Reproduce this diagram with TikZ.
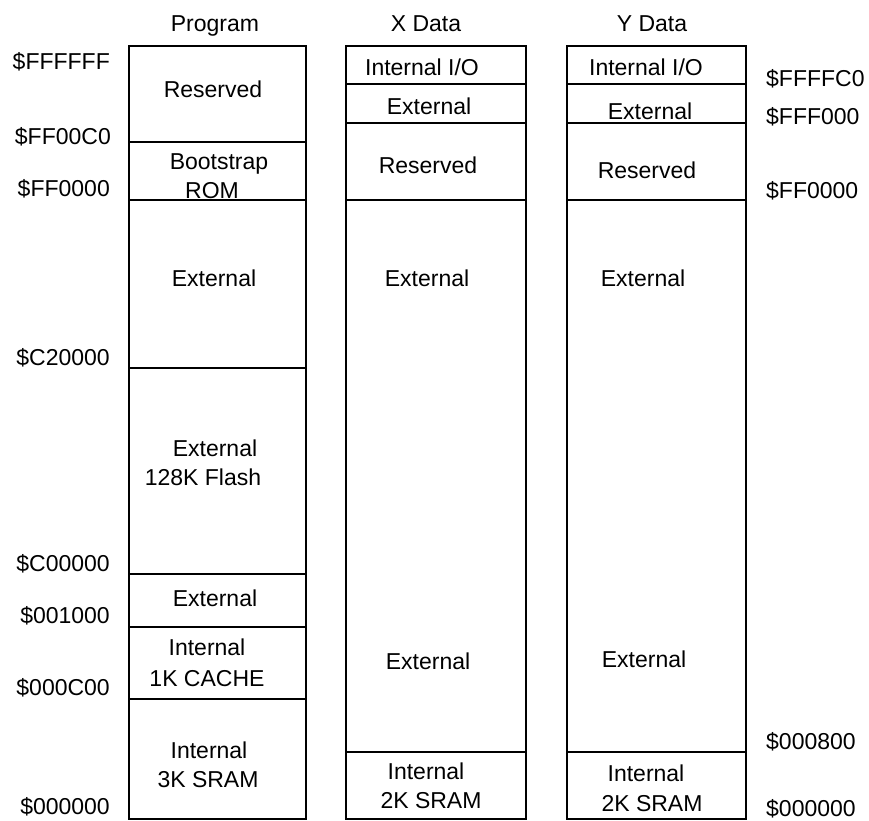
\documentclass[tikz,border=0pt]{standalone}
\usepackage{fontspec}
\setmainfont{Liberation Sans}
\begin{document}
\begin{tikzpicture}[x=1bp,y=-1bp,
  box/.style={line width=1.9bp},
  lbl/.style={inner sep=0pt,font=\fontsize{23bp}{27bp}\selectfont,text height=16.5bp,text depth=0bp,anchor=center},
  addrL/.style={lbl,anchor=east},
  addrR/.style={lbl,anchor=west}]
\useasboundingbox (0,0) rectangle (869,821);
% Program column
\draw[box] (129,46) rectangle (306,819);
\foreach \yy in {142,200,368,574,627,699} \draw[box] (129,\yy) -- (306,\yy);
% X data column
\draw[box] (346,46) rectangle (526,819);
\foreach \yy in {84,123,200,752} \draw[box] (346,\yy) -- (526,\yy);
% Y data column
\draw[box] (567,46) rectangle (746,819);
\foreach \yy in {84,123,200,752} \draw[box] (567,\yy) -- (746,\yy);
% titles
\node[lbl] (tp) at (215,23) {Program};
\node[lbl] (tx) at (426,23) {X Data};
\node[lbl] (ty) at (652,23) {Y Data};
% program texts
\node[lbl] (p1) at (213,89) {Reserved};
\node[lbl] (p2a) at (219,161) {Bootstrap};
\node[lbl] (p2b) at (212,190) {ROM};
\node[lbl] (p3) at (214,278) {External};
\node[lbl] (p4a) at (215,448) {External};
\node[lbl] (p4b) at (203,477) {128K Flash};
\node[lbl] (p5) at (215,598) {External};
\node[lbl] (p6a) at (207,647) {Internal};
\node[lbl] (p6b) at (207,678) {1K CACHE};
\node[lbl] (p7a) at (209,750) {Internal};
\node[lbl] (p7b) at (208,779) {3K SRAM};
% X texts
\node[lbl] (x1) at (422,67) {Internal I/O};
\node[lbl] (x2) at (429,106) {External};
\node[lbl] (x3) at (428,165) {Reserved};
\node[lbl] (x4) at (427,278) {External};
\node[lbl] (x5) at (428,661) {External};
\node[lbl] (x6a) at (426,771) {Internal};
\node[lbl] (x6b) at (431,800) {2K SRAM};
% Y texts
\node[lbl] (y1) at (646,67) {Internal I/O};
\node[lbl] (y2) at (650,111) {External};
\node[lbl] (y3) at (647,170) {Reserved};
\node[lbl] (y4) at (643,278) {External};
\node[lbl] (y5) at (644,659) {External};
\node[lbl] (y6a) at (646,773) {Internal};
\node[lbl] (y6b) at (652,803) {2K SRAM};
% left addresses
\node[addrL] (a1) at (110,61) {\$FFFFFF};
\node[addrL] (a2) at (111,136) {\$FF00C0};
\node[addrL] (a3) at (110,188) {\$FF0000};
\node[addrL] (a4) at (110,357) {\$C20000};
\node[addrL] (a5) at (110,563) {\$C00000};
\node[addrL] (a6) at (110,615) {\$001000};
\node[addrL] (a7) at (110,687) {\$000C00};
\node[addrL] (a8) at (110,806) {\$000000};
% right addresses
\node[addrR] (b1) at (766,78) {\$FFFFC0};
\node[addrR] (b2) at (766,116) {\$FFF000};
\node[addrR] (b3) at (766,190) {\$FF0000};
\node[addrR] (b4) at (766,741) {\$000800};
\node[addrR] (b5) at (766,808) {\$000000};
\end{tikzpicture}
\end{document}
